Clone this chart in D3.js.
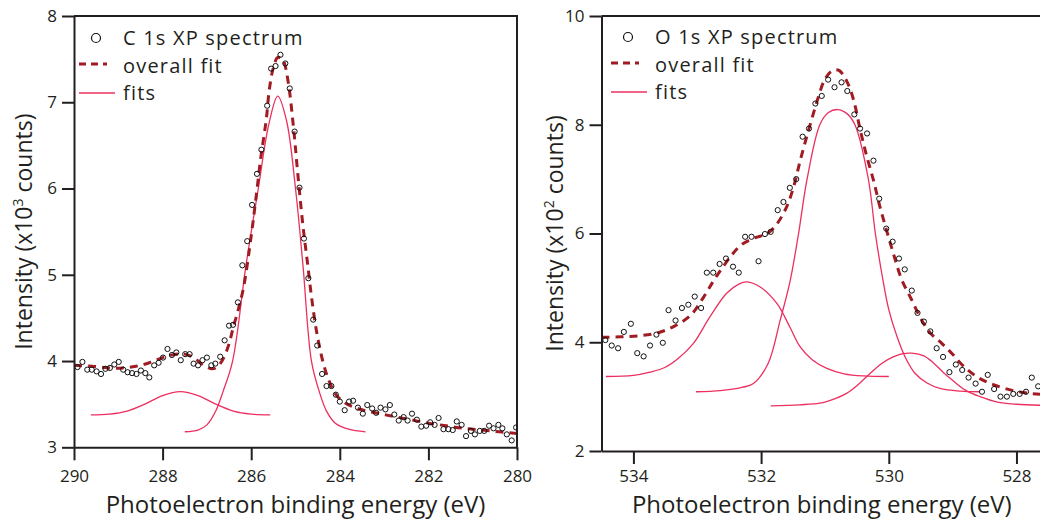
<!DOCTYPE html>
<html><head><meta charset="utf-8">
<script src="https://cdn.jsdelivr.net/npm/d3@7/dist/d3.min.js"></script>
<style>
body{margin:0;background:#fff;}
svg{display:block;}
text{font-family:"Open Sans","Noto Sans",sans-serif;fill:#231f20;}
</style></head>
<body>
<svg id="chart" width="1040" height="520"></svg>
<script>
// ---------- C 1s data ----------
const cEnergy = [289.92,289.81,289.70,289.60,289.49,289.39,289.29,289.19,289.09,288.99,288.89,288.79,288.69,288.59,288.49,288.39,288.30,288.19,288.09,287.99,287.89,287.79,287.69,287.59,287.49,287.39,287.30,287.20,287.10,287.00,286.90,286.81,286.70,286.60,286.50,286.41,286.30,286.20,286.09,285.98,285.87,285.77,285.64,285.55,285.45,285.34,285.23,285.13,285.02,284.91,284.81,284.71,284.60,284.51,284.40,284.30,284.19,284.09,284.00,283.89,283.79,283.70,283.59,283.48,283.38,283.27,283.18,283.08,282.97,282.87,282.77,282.67,282.56,282.47,282.37,282.26,282.16,282.05,281.96,281.86,281.77,281.66,281.55,281.45,281.36,281.25,281.15,281.04,280.95,280.84,280.74,280.63,280.53,280.42,280.33,280.23,280.12,280.02];
const cCounts = [3.93,3.99,3.90,3.90,3.88,3.85,3.91,3.92,3.96,3.99,3.90,3.87,3.86,3.85,3.89,3.86,3.81,3.95,3.98,4.04,4.14,4.07,4.10,4.01,4.08,4.08,3.97,3.95,4.01,4.04,3.95,3.97,4.05,4.24,4.41,4.42,4.68,5.11,5.39,5.81,6.17,6.45,6.96,7.39,7.42,7.55,7.45,7.16,6.66,6.01,5.42,4.96,4.48,4.18,3.85,3.71,3.71,3.61,3.53,3.43,3.53,3.54,3.46,3.39,3.49,3.45,3.40,3.46,3.44,3.49,3.38,3.31,3.35,3.31,3.39,3.32,3.24,3.25,3.29,3.26,3.34,3.21,3.21,3.20,3.30,3.26,3.13,3.19,3.15,3.19,3.19,3.25,3.22,3.26,3.22,3.15,3.08,3.23];
const cOverallE = [290,289.6,289.2,288.9,288.6,288.3,288.0,287.7,287.5,287.3,287.1,286.9,286.8,286.7,286.6,286.5,286.4,286.3,286.17,286.0,285.89,285.78,285.66,285.59,285.5,285.4,285.3,285.26,285.16,285.04,284.95,284.83,284.73,284.64,284.53,284.38,284.25,284.1,283.9,283.6,283.2,282.8,282.4,282.0,281.6,281.2,280.8,280.4,280.0];
const cOverallI = [3.95,3.94,3.92,3.92,3.94,3.98,4.04,4.08,4.08,4.04,3.96,3.91,3.92,3.97,4.06,4.2,4.4,4.58,4.86,5.45,5.9,6.37,6.8,7.15,7.4,7.52,7.5,7.47,7.22,6.68,6.18,5.56,5.14,4.75,4.36,3.99,3.78,3.62,3.52,3.45,3.40,3.36,3.32,3.28,3.25,3.22,3.2,3.18,3.16];
const cFitAE = [287.5,287.2,287.0,286.8,286.64,286.42,286.12,285.84,285.6,285.4,285.2,285.0,284.83,284.64,284.46,284.3,284.1,283.8,283.42];
const cFitAI = [3.18,3.2,3.26,3.42,3.64,4.0,5.1,6.0,6.75,7.07,6.78,6.0,5.1,4.0,3.64,3.42,3.28,3.21,3.18];
const cFitBE = [289.62,289.2,288.8,288.4,288.0,287.6,287.2,286.8,286.4,286.0,285.57];
const cFitBI = [3.375,3.385,3.42,3.5,3.6,3.645,3.6,3.5,3.42,3.385,3.375];
const cTicksX = [290,288,286,284,282,280];
const cTicksY = [3,4,5,6,7,8];

// ---------- O 1s data ----------
const oEnergy = [534.44,534.34,534.24,534.15,534.04,533.94,533.84,533.74,533.64,533.54,533.45,533.34,533.24,533.14,533.04,532.94,532.85,532.75,532.65,532.55,532.44,532.35,532.25,532.15,532.04,531.94,531.85,531.74,531.65,531.55,531.45,531.35,531.25,531.15,531.05,530.95,530.85,530.74,530.65,530.54,530.45,530.34,530.24,530.15,530.04,529.94,529.84,529.75,529.64,529.55,529.45,529.35,529.25,529.15,529.05,528.95,528.85,528.75,528.64,528.54,528.45,528.35,528.25,528.15,528.05,527.95,527.85,527.76,527.66];
const oCounts = [4.04,3.94,3.89,4.19,4.34,3.80,3.74,3.94,4.14,3.99,4.59,4.40,4.63,4.69,4.84,4.63,5.28,5.28,5.44,5.54,5.39,5.28,5.94,5.94,5.49,5.99,6.03,6.43,6.58,6.84,7.00,7.78,7.93,8.39,8.53,8.83,8.69,8.78,8.62,8.19,7.93,7.84,7.34,6.64,6.09,5.85,5.54,5.34,4.95,4.54,4.38,4.20,3.89,3.73,3.45,3.59,3.49,3.35,3.24,3.09,3.40,3.14,3.00,3.00,3.05,3.05,3.09,3.35,3.19];
const oOverallE = [534.5,534.2,533.9,533.6,533.35,533.1,532.9,532.75,532.6,532.45,532.3,532.1,531.9,531.75,531.6,531.49,531.39,531.3,531.2,531.1,531.0,530.88,530.78,530.65,530.55,530.45,530.35,530.24,530.14,530.03,529.92,529.8,529.65,529.5,529.35,529.17,529.0,528.83,528.6,528.34,528.05,527.8,527.6];
const oOverallI = [4.09,4.1,4.12,4.18,4.3,4.5,4.83,5.12,5.38,5.62,5.8,5.92,6.0,6.18,6.49,6.86,7.33,7.72,8.13,8.52,8.84,9.0,9.0,8.78,8.45,7.92,7.44,6.98,6.5,6.04,5.6,5.16,4.8,4.44,4.17,3.98,3.78,3.56,3.35,3.21,3.11,3.06,3.04];
const oFitAE = [533.02,532.64,532.3,532.12,531.89,531.7,531.55,531.42,531.28,531.08,530.95,530.8,530.65,530.53,530.32,530.21,530.1,530.0,529.87,529.74,529.59,529.4,529.2,528.88,528.57];
const oFitAI = [3.09,3.11,3.17,3.24,3.61,4.41,5.1,5.95,7.0,8.0,8.22,8.28,8.2,8.0,7.0,6.0,5.2,4.6,4.1,3.72,3.43,3.25,3.15,3.1,3.09];
const oFitBE = [534.43,534.0,533.74,533.5,533.3,533.06,532.8,532.54,532.35,532.22,532.02,531.75,531.55,531.39,531.2,530.97,530.7,530.4,530.0];
const oFitBI = [3.37,3.39,3.45,3.54,3.7,3.98,4.47,4.9,5.07,5.11,5.02,4.71,4.28,3.92,3.68,3.52,3.42,3.38,3.37];
const oFitCE = [531.85,531.4,531.08,530.85,530.66,530.5,530.29,530.1,529.93,529.78,529.64,529.45,529.3,529.15,529.0,528.8,528.57,528.3,528.0,527.6];
const oFitCI = [2.83,2.85,2.88,2.96,3.06,3.2,3.43,3.62,3.73,3.79,3.80,3.75,3.62,3.45,3.3,3.12,3.0,2.9,2.86,2.84];
const oTicksX = [534,532,530,528];
const oTicksY = [2,4,6,8,10];

const svg = d3.select("#chart");
const FIT_COLOR = "#ec2f5f";
const OVERALL_COLOR = "#a01b22";
const AXIS_COLOR = "#231f20";

function panel(cfg){
  const g = svg.append("g");
  const x = d3.scaleLinear().domain(cfg.xDomain).range(cfg.xRange);
  const y = d3.scaleLinear().domain(cfg.yDomain).range(cfg.yRange);
  const clipId = "clip" + cfg.id;
  svg.append("clipPath").attr("id", clipId).append("rect")
    .attr("x", cfg.xRange[0]).attr("y", cfg.yRange[1])
    .attr("width", cfg.xRange[1]-cfg.xRange[0]).attr("height", cfg.yRange[0]-cfg.yRange[1]);

  const line = d3.line().x(d=>x(d[0])).y(d=>y(d[1])).curve(d3.curveCatmullRom.alpha(0.5));
  const plot = g.append("g").attr("clip-path", `url(#${clipId})`);

  cfg.fits.forEach(f=>{
    plot.append("path").datum(d3.zip(f[0], f[1]))
      .attr("d", line).attr("fill","none").attr("stroke",FIT_COLOR).attr("stroke-width",1.3);
  });
  plot.append("path").datum(d3.zip(cfg.overall[0], cfg.overall[1]))
    .attr("d", line).attr("fill","none").attr("stroke",OVERALL_COLOR)
    .attr("stroke-width",3).attr("stroke-dasharray","8,6");
  plot.selectAll("circle.pt").data(d3.zip(cfg.energy, cfg.counts)).join("circle")
    .attr("class","pt").attr("cx",d=>x(d[0])).attr("cy",d=>y(d[1])).attr("r",2.6)
    .attr("fill","none").attr("stroke","#111").attr("stroke-width",1);

  // frame (top and right)
  g.append("path")
    .attr("d", `M${cfg.xRange[0]},${cfg.yRange[1]}H${cfg.xRange[1]}V${cfg.yRange[0]}`)
    .attr("fill","none").attr("stroke",AXIS_COLOR).attr("stroke-width",2);

  const xa = g.append("g").attr("transform",`translate(0,${cfg.yRange[0]})`)
    .call(d3.axisBottom(x).tickValues(cfg.ticksX).tickSize(13).tickSizeOuter(0).tickPadding(cfg.xPad).tickFormat(d3.format("d")));
  const ya = g.append("g").attr("transform",`translate(${cfg.xRange[0]},0)`)
    .call(d3.axisLeft(y).tickValues(cfg.ticksY).tickSize(12).tickSizeOuter(0).tickPadding(5).tickFormat(d3.format("d")));
  [xa,ya].forEach(a=>{
    a.select(".domain").attr("stroke",AXIS_COLOR).attr("stroke-width",2);
    a.selectAll(".tick line").attr("stroke",AXIS_COLOR).attr("stroke-width",2);
    a.selectAll(".tick text").attr("fill",AXIS_COLOR).style("font-size","17px")
      .style("font-family",'"Open Sans","Noto Sans",sans-serif');
  });

  // axis titles
  g.append("text").attr("x",(cfg.xRange[0]+cfg.xRange[1])/2).attr("y",512.8)
    .attr("text-anchor","middle").style("font-size","24px").text("Photoelectron binding energy (eV)");
  const yt = g.append("text").attr("transform",`translate(${cfg.yTitleX},${(cfg.yRange[0]+cfg.yRange[1])/2}) rotate(-90)`)
    .attr("text-anchor","middle").style("font-size","23px");
  yt.append("tspan").text("Intensity (x10");
  yt.append("tspan").attr("dy",-9).style("font-size","14px").text(cfg.exp);
  yt.append("tspan").attr("dy",9).text(" counts)");

  // legend
  const lg = g.append("g").attr("transform",`translate(${cfg.legend[0]},${cfg.legend[1]})`);
  const lstyle = t => t.style("font-size","20px").style("letter-spacing","1.2px");
  lg.append("circle").attr("cx",17).attr("cy",-1).attr("r",4.5).attr("fill","none").attr("stroke","#111").attr("stroke-width",1.2);
  lg.append("text").attr("x",44).attr("y",6).call(lstyle).text(cfg.label);
  lg.append("line").attr("x1",0).attr("x2",28).attr("y1",25).attr("y2",25)
    .attr("stroke",OVERALL_COLOR).attr("stroke-width",3).attr("stroke-dasharray","7,5");
  lg.append("text").attr("x",44).attr("y",33.5).call(lstyle).text("overall fit");
  lg.append("line").attr("x1",0).attr("x2",36).attr("y1",54).attr("y2",54)
    .attr("stroke",FIT_COLOR).attr("stroke-width",1.3);
  lg.append("text").attr("x",44).attr("y",61).call(lstyle).text("fits");
}

panel({id:"C", xDomain:[290,280], xRange:[74,517], yDomain:[3,8], yRange:[447.3,16],
  energy:cEnergy, counts:cCounts, overall:[cOverallE,cOverallI],
  fits:[[cFitAE,cFitAI],[cFitBE,cFitBI]], ticksX:cTicksX, ticksY:cTicksY, xPad:9.5,
  yTitleX:32, exp:"3", label:"C 1s XP spectrum", legend:[79,39]});
panel({id:"O", xDomain:[534.5,527.6], xRange:[601.5,1042], yDomain:[2,10], yRange:[451,16],
  energy:oEnergy, counts:oCounts, overall:[oOverallE,oOverallI],
  fits:[[oFitAE,oFitAI],[oFitBE,oFitBI],[oFitCE,oFitCI]], ticksX:oTicksX, ticksY:oTicksY, xPad:6,
  yTitleX:563, exp:"2", label:"O 1s XP spectrum", legend:[611,38]});
</script>
</body></html>
